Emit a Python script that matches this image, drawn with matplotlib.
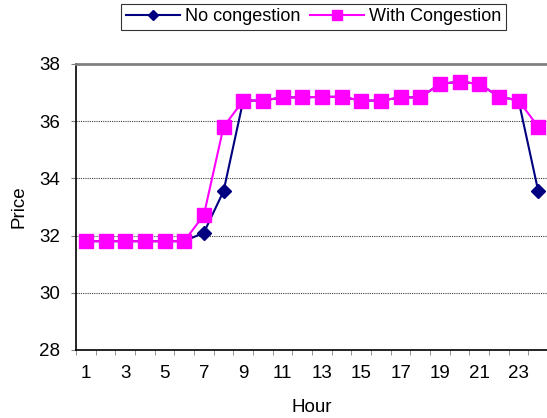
import matplotlib.pyplot as plt
import numpy as np

plt.rcParams['font.family'] = ['Liberation Sans', 'DejaVu Sans']

hours = np.arange(1, 25)
no_congestion = [31.8, 31.8, 31.8, 31.8, 31.8, 31.8, 32.1, 33.55, 36.72, 36.72,
                 36.83, 36.83, 36.85, 36.85, 36.72, 36.72, 36.83, 36.83, 37.3, 37.38,
                 37.3, 36.86, 36.72, 33.55]
with_congestion = [31.8, 31.8, 31.8, 31.8, 31.8, 31.8, 32.72, 35.8, 36.72, 36.72,
                   36.83, 36.83, 36.85, 36.85, 36.72, 36.72, 36.83, 36.83, 37.3, 37.38,
                   37.3, 36.86, 36.72, 35.8]
tick_hours = list(range(1, 24, 2))

fig = plt.figure(figsize=(5.47, 4.18), dpi=100)
ax = fig.add_axes([0.139, 0.163, 0.863, 0.684])

ax.plot(hours, no_congestion, color='#000080', marker='D', markersize=7.5,
        linewidth=1.5, label='No congestion', zorder=3)
ax.plot(hours, with_congestion, color='#ff00ff', marker='s', markersize=9.5,
        linewidth=1.5, label='With Congestion', zorder=4)

ax.set_xlim(0.5, 24.5)
ax.set_ylim(28, 38)
ax.set_yticks([28, 30, 32, 34, 36, 38])
ax.set_xticks(tick_hours)
ax.set_xticks(np.arange(0.5, 25, 1), minor=True)
ax.tick_params(axis='x', which='major', length=0, pad=11, labelsize=13.5)
ax.tick_params(axis='x', which='minor', length=3.5, direction='out', color='#808080')
ax.tick_params(axis='y', length=3.5, direction='out', color='#808080', labelsize=13.5, pad=8)

for y in [30, 32, 34, 36]:
    ax.axhline(y, color='#404040', linestyle=(0, (1, 1)), linewidth=0.8, zorder=1)

ax.spines['top'].set_color('#808080')
ax.spines['top'].set_linewidth(2)
ax.spines['right'].set_visible(False)
ax.spines['left'].set_linewidth(1.2)
ax.spines['bottom'].set_linewidth(1.2)

ax.set_xlabel('Hour', fontsize=13.5, labelpad=12)
ax.set_ylabel('Price', fontsize=13.5, labelpad=8)

leg = fig.legend(loc='center', bbox_to_anchor=(0.573, 0.96), ncol=2, fontsize=13,
                 frameon=True, fancybox=False, edgecolor='black', markerscale=0.7,
                 handlelength=3.0, columnspacing=0.5, handletextpad=0.3,
                 borderpad=0.25, borderaxespad=0)
leg.get_frame().set_linewidth(0.8)

fig.savefig('out.png', dpi=100)
